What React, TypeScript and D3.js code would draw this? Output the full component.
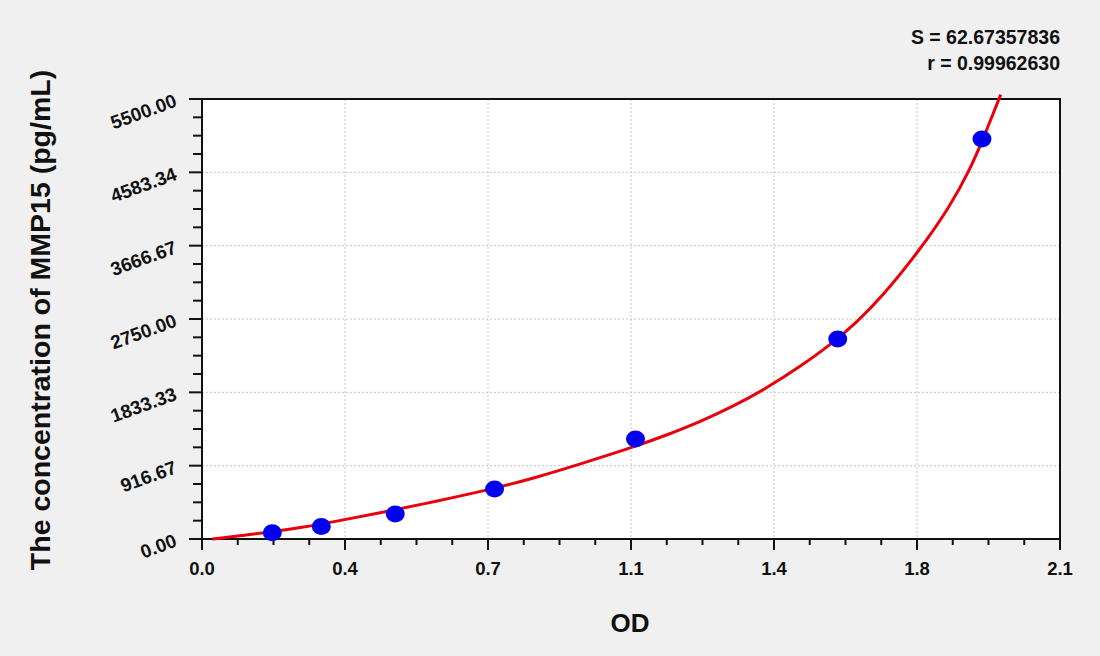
import React, { useEffect, useRef } from 'react';
import * as d3 from 'd3';

// Standard points (OD, pg/mL)
const stdOD = [0.172, 0.292, 0.473, 0.716, 1.061, 1.556, 1.909];
const stdConc = [78.13, 156.25, 312.5, 625, 1250, 2500, 5000];

// Fitted curve
const curveOD = [0.025, 0.1, 0.172, 0.25, 0.319, 0.434, 0.58, 0.716, 0.82, 0.924, 1.054, 1.137, 1.218, 1.299, 1.38, 1.463, 1.544, 1.6, 1.66, 1.757, 1.83, 1.879, 1.911, 1.955];
const curveConc = [0, 45, 90, 150, 212, 325, 478, 632, 772, 935, 1145, 1298, 1462, 1655, 1880, 2150, 2450, 2700, 3000, 3612, 4150, 4612, 4990, 5555];

const xTickValues = [0, 0.35, 0.7, 1.05, 1.4, 1.75, 2.1];
const xTickLabels = ['0.0', '0.4', '0.7', '1.1', '1.4', '1.8', '2.1'];
const yTickValues = [0, 916.67, 1833.33, 2750, 3666.67, 4583.34, 5500];
const yTickLabels = ['0.00', '916.67', '1833.33', '2750.00', '3666.67', '4583.34', '5500.00'];

const statLines = ['S = 62.67357836', 'r = 0.99962630'];

const W = 1100;
const H = 656;
const FONT = '"Liberation Sans", Arial, Helvetica, sans-serif';

const App: React.FC = () => {
  const svgRef = useRef<SVGSVGElement>(null);

  useEffect(() => {
    if (!svgRef.current) return;
    const svg = d3.select(svgRef.current);
    svg.selectAll('*').remove();

    const left = 202, right = 1060, top = 99, bottom = 539;

    const x = d3.scaleLinear().domain([0, 2.1]).range([left, right]);
    const y = d3.scaleLinear().domain([0, 5500]).range([bottom, top]);

    svg.append('rect').attr('width', W).attr('height', H).attr('fill', '#f0f0f0');
    svg.append('rect')
      .attr('x', left).attr('y', top)
      .attr('width', right - left).attr('height', bottom - top)
      .attr('fill', '#ffffff');

    // grid
    const g = svg.append('g');
    g.selectAll('.gx')
      .data(xTickValues.slice(1, -1))
      .enter().append('line')
      .attr('x1', d => x(d)).attr('x2', d => x(d))
      .attr('y1', top).attr('y2', bottom)
      .attr('stroke', '#c4c4c4').attr('stroke-width', 1).attr('stroke-dasharray', '2,2');
    g.selectAll('.gy')
      .data(yTickValues.slice(1, -1))
      .enter().append('line')
      .attr('x1', left).attr('x2', right)
      .attr('y1', d => y(d)).attr('y2', d => y(d))
      .attr('stroke', '#c4c4c4').attr('stroke-width', 1).attr('stroke-dasharray', '2,2');

    // frame
    svg.append('rect')
      .attr('x', left).attr('y', top)
      .attr('width', right - left).attr('height', bottom - top)
      .attr('fill', 'none').attr('stroke', '#111').attr('stroke-width', 2);

    // x ticks
    const xMinor = d3.range(0, 25).map(i => i * 2.1 / 24);
    svg.append('g').selectAll('line')
      .data(xMinor)
      .enter().append('line')
      .attr('x1', d => x(d)).attr('x2', d => x(d))
      .attr('y1', bottom)
      .attr('y2', (d, i) => bottom + (i % 4 === 0 ? 11 : 6))
      .attr('stroke', '#111').attr('stroke-width', 2);
    svg.append('g').selectAll('text')
      .data(xTickValues)
      .enter().append('text')
      .attr('x', d => x(d)).attr('y', 575)
      .attr('text-anchor', 'middle')
      .attr('font-family', FONT).attr('font-weight', 'bold').attr('font-size', 18.5)
      .attr('fill', '#111')
      .text((d, i) => xTickLabels[i]);

    // y ticks
    const yMinor = d3.range(0, 25).map(i => i * 5500 / 24);
    svg.append('g').selectAll('line')
      .data(yMinor)
      .enter().append('line')
      .attr('y1', d => y(d)).attr('y2', d => y(d))
      .attr('x1', left)
      .attr('x2', (d, i) => left - (i % 4 === 0 ? 13 : 9))
      .attr('stroke', '#111').attr('stroke-width', 2);
    svg.append('g').selectAll('text')
      .data(yTickValues)
      .enter().append('text')
      .attr('transform', d => `translate(178,${y(d) + 7}) rotate(-20)`)
      .attr('text-anchor', 'end')
      .attr('font-family', FONT).attr('font-weight', 'bold').attr('font-size', 19)
      .attr('fill', '#111')
      .text((d, i) => yTickLabels[i]);

    // fitted curve
    const line = d3.line<number>()
      .x(d => x(d))
      .y((d, i) => y(curveConc[i]))
      .curve(d3.curveBasis);
    svg.append('path')
      .attr('d', line(curveOD))
      .attr('fill', 'none')
      .attr('stroke', '#e8000b')
      .attr('stroke-width', 3);

    // standards
    svg.append('g').selectAll('ellipse')
      .data(stdOD)
      .enter().append('ellipse')
      .attr('cx', d => x(d))
      .attr('cy', (d, i) => y(stdConc[i]))
      .attr('rx', 9.5).attr('ry', 8.5)
      .attr('fill', '#0000ee');

    // axis titles
    svg.append('text')
      .attr('x', 630).attr('y', 632)
      .attr('text-anchor', 'middle')
      .attr('font-family', FONT).attr('font-weight', 'bold').attr('font-size', 26)
      .attr('fill', '#111')
      .text('OD');
    svg.append('text')
      .attr('transform', 'translate(50,320) rotate(-90)')
      .attr('text-anchor', 'middle')
      .attr('font-family', FONT).attr('font-weight', 'bold').attr('font-size', 28.5)
      .attr('fill', '#111')
      .text('The concentration of MMP15 (pg/mL)');

    // fit stats
    svg.append('g').selectAll('text')
      .data(statLines)
      .enter().append('text')
      .attr('x', 1060).attr('y', (d, i) => 44 + i * 26)
      .attr('text-anchor', 'end')
      .attr('font-family', FONT).attr('font-weight', 'bold').attr('font-size', 19.5)
      .attr('fill', '#111')
      .text(d => d);
  }, []);

  return (
    <svg
      ref={svgRef}
      width={W}
      height={H}
      style={{ position: 'absolute', left: 0, top: 0, display: 'block' }}
    />
  );
};

export default App;
